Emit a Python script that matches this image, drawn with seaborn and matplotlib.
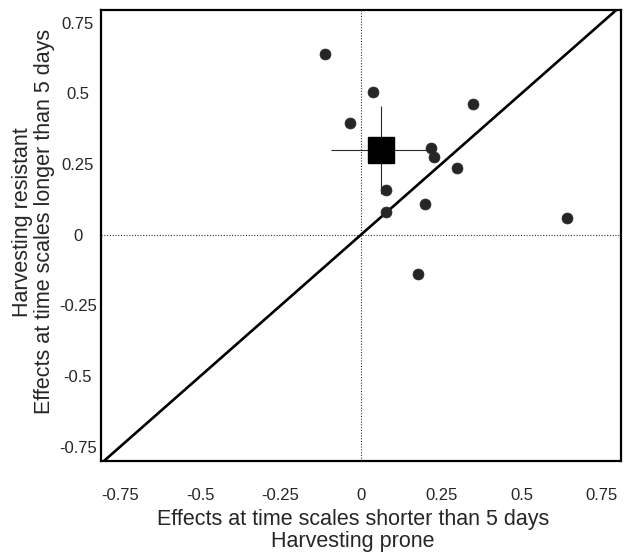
import matplotlib
matplotlib.use("Agg")
import matplotlib.pyplot as plt
import seaborn as sns
import pandas as pd

# individual effects (short time scale, long time scale)
short_effects = [-0.112, 0.037, -0.033, 0.349, 0.217, 0.228, 0.300, 0.077, 0.198, 0.077, 0.641, 0.179]
long_effects = [0.638, 0.503, 0.395, 0.463, 0.306, 0.276, 0.237, 0.158, 0.110, 0.079, 0.059, -0.139]

# pooled mean and its error
mean_short = 0.062
mean_long = 0.299
mean_err = 0.155

ticks = [-0.75, -0.5, -0.25, 0, 0.25, 0.5, 0.75]
tick_labels = ["-0.75", "-0.5", "-0.25", "0", "0.25", "0.5", "0.75"]

df = pd.DataFrame({"short": short_effects, "long": long_effects})

sns.set_style("white")
plt.rcParams["font.family"] = ["Liberation Sans", "DejaVu Sans"]

fig = plt.figure(figsize=(6.3, 5.52), dpi=100)
ax = fig.add_axes([0.160, 0.165, 0.826, 0.817])

lo, hi = -0.81, 0.81
ax.plot([lo, hi], [lo, hi], color="black", lw=1.9, zorder=2)
ax.axvline(0, color="#333333", lw=0.8, ls=(0, (1, 1.5)), zorder=1)
ax.axhline(0, color="#333333", lw=0.8, ls=(0, (1, 1.5)), zorder=1)

ax.errorbar(mean_short, mean_long, xerr=mean_err, yerr=mean_err, fmt="s",
            color="black", ms=18.5, ecolor="#2a2a2a", elinewidth=0.8, capsize=0, zorder=3)

sns.scatterplot(data=df, x="short", y="long", ax=ax, s=62, color="#262626",
                edgecolor="#262626", linewidth=0.5, zorder=4)

ax.set_xlim(lo, hi)
ax.set_ylim(-0.80, 0.795)
ax.set_xticks(ticks)
ax.set_xticklabels(tick_labels)
ax.set_yticks(ticks)
ax.set_yticklabels(tick_labels, ha="center")
ax.tick_params(axis="x", length=0, pad=19.5, labelsize=12)
ax.tick_params(axis="y", length=0, pad=16.5, labelsize=12)

for sp in ax.spines.values():
    sp.set_color("black")
    sp.set_linewidth(1.6)

ax.set_xlabel("Effects at time scales shorter than 5 days\nHarvesting prone",
              fontsize=15.5, linespacing=1.08)
ax.set_ylabel("Harvesting resistant\nEffects at time scales longer than 5 days",
              fontsize=15.5, linespacing=1.05)
ax.xaxis.set_label_coords(0.485, -0.106)
ax.yaxis.set_label_coords(-0.088, 0.53)

fig.savefig("out.png", dpi=100)
